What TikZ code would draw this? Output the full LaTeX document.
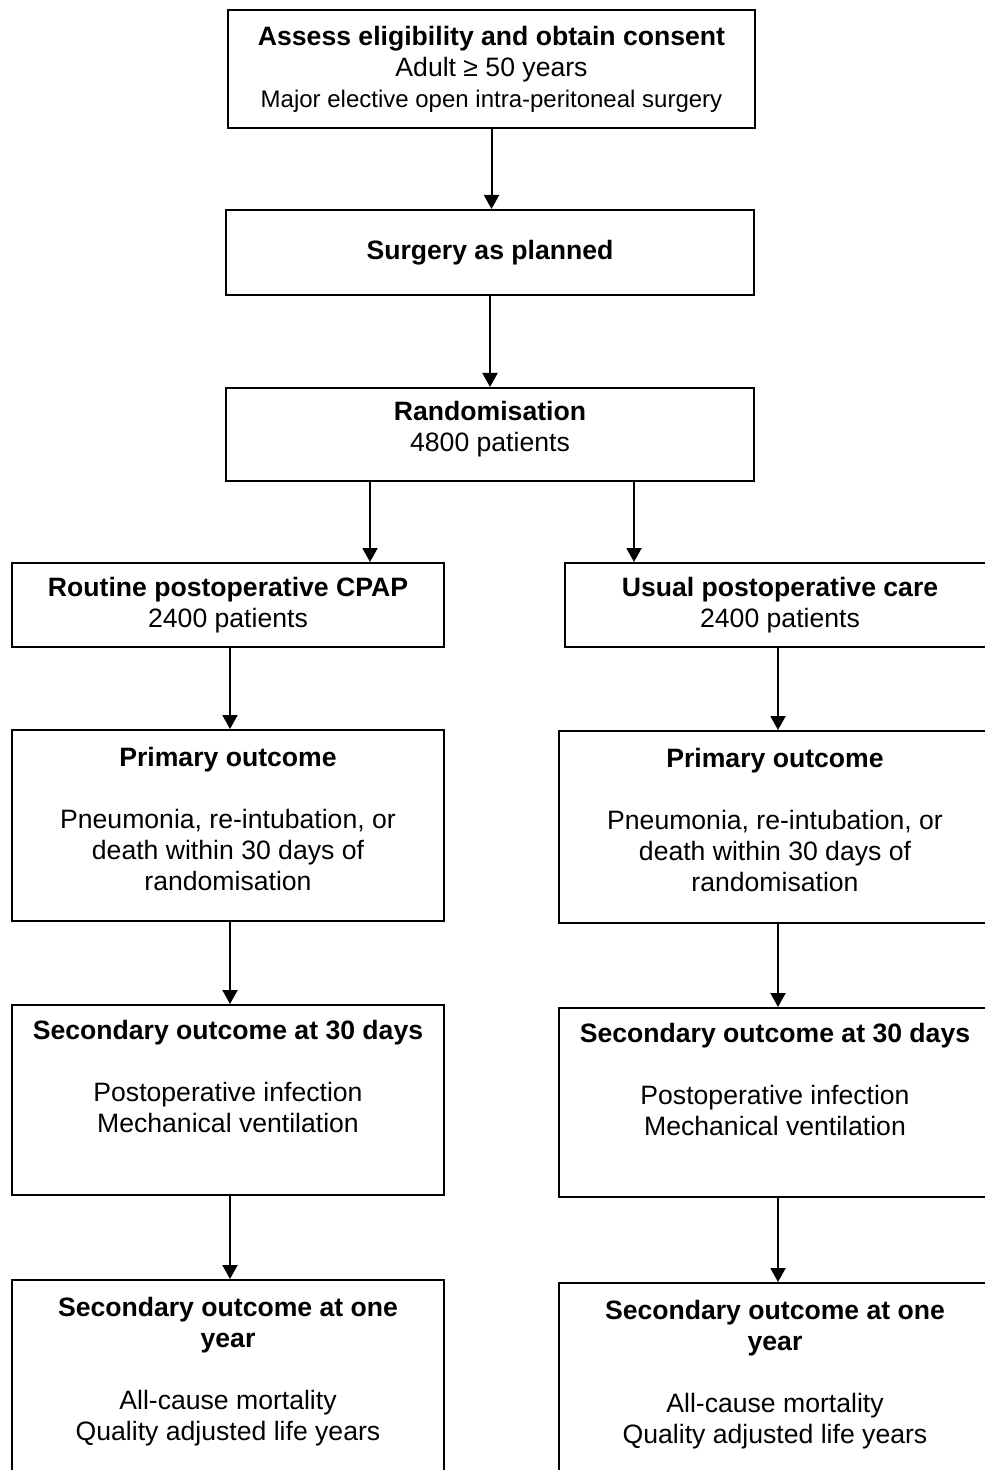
\documentclass[tikz,border=0pt]{standalone}
\usepackage{fontspec}
\setmainfont{Liberation Sans}
\usetikzlibrary{positioning,arrows.meta}

\tikzset{
	box/.style={draw, line width=1pt, inner sep=0pt, align=center,
		font=\fontsize{13.3}{15.5}\selectfont},
	txt/.style={inner sep=0pt, align=center, font=\fontsize{13.3}{15.5}\selectfont},
	arr/.style={line width=1pt, -{Triangle[length=7pt,width=7.5pt]}}
}

\begin{document}
\begin{tikzpicture}[x=0.5pt, y=-0.5pt]
	\useasboundingbox (0,0) rectangle (984,1470);
	
	% top part
	\node[box, minimum width=263.5pt, minimum height=59pt] (elig) at (491.5,69)
		{\textbf{Assess eligibility and obtain consent}\\
		Adult ≥ 50 years\\
		{\fontsize{12}{15.5}\selectfont Major elective open intra-peritoneal surgery}};
	\node[box, minimum width=264pt, minimum height=42.5pt] (surg) at (490,252.5)
		{\textbf{Surgery as planned}};
	\node[box, minimum width=264pt, minimum height=46.5pt] (rand) at (490,434.5) {};
	\node[txt, below=7pt of rand.north] (randt) {\textbf{Randomisation}\\4800 patients};
	
	% the two arms
	\node[box, minimum width=216pt, minimum height=42pt] (cpap) at (228,605)
		{\textbf{Routine postoperative CPAP}\\2400 patients};
	\node[box, minimum width=215pt, minimum height=42pt] (usual) at (780,605)
		{\textbf{Usual postoperative care}\\2400 patients};
	
	% left column
	\node[box, minimum width=216pt, minimum height=95.5pt] (primL) at (228,825.5) {};
	\node[txt, below=9pt of primL.north] (primLt)
		{\textbf{Primary outcome}\\[15.5pt]
		Pneumonia, re-intubation, or\\death within 30 days of\\randomisation};
	\node[box, minimum width=216pt, minimum height=95pt] (secL) at (228,1100) {};
	\node[txt, below=8pt of secL.north] (secLt)
		{\textbf{Secondary outcome at 30 days}\\[15.5pt]
		Postoperative infection\\Mechanical ventilation};
	\node[box, minimum width=216pt, minimum height=100pt] (yearL) at (228,1380) {};
	\node[txt, below=9pt of yearL.north] (yearLt)
		{\textbf{Secondary outcome at one}\\\textbf{year}\\[15.5pt]
		All-cause mortality\\Quality adjusted life years};
	
	% right column
	\node[box, minimum width=216pt, minimum height=96pt] (primR) at (775,827) {};
	\node[txt, below=9pt of primR.north] (primRt)
		{\textbf{Primary outcome}\\[15.5pt]
		Pneumonia, re-intubation, or\\death within 30 days of\\randomisation};
	\node[box, minimum width=216pt, minimum height=94.5pt] (secR) at (775,1102.5) {};
	\node[txt, below=8pt of secR.north] (secRt)
		{\textbf{Secondary outcome at 30 days}\\[15.5pt]
		Postoperative infection\\Mechanical ventilation};
	\node[box, minimum width=216pt, minimum height=100pt] (yearR) at (775,1383) {};
	\node[txt, below=9pt of yearR.north] (yearRt)
		{\textbf{Secondary outcome at one}\\\textbf{year}\\[15.5pt]
		All-cause mortality\\Quality adjusted life years};
	
	\coordinate (splitL) at (370,0);
	\coordinate (splitR) at (634,0);
	\coordinate (colL) at (230,0);
	\coordinate (colR) at (778,0);
	
	% arrows
	\draw[arr] (elig.south) -- (elig.south |- surg.north);
	\draw[arr] (surg.south) -- (surg.south |- rand.north);
	\draw[arr] (rand.south -| splitL) -- (cpap.north -| splitL);
	\draw[arr] (rand.south -| splitR) -- (usual.north -| splitR);
	\draw[arr] (cpap.south -| colL) -- (primL.north -| colL);
	\draw[arr] (primL.south -| colL) -- (secL.north -| colL);
	\draw[arr] (secL.south -| colL) -- (yearL.north -| colL);
	\draw[arr] (usual.south -| colR) -- (primR.north -| colR);
	\draw[arr] (primR.south -| colR) -- (secR.north -| colR);
	\draw[arr] (secR.south -| colR) -- (yearR.north -| colR);
\end{tikzpicture}
\end{document}
